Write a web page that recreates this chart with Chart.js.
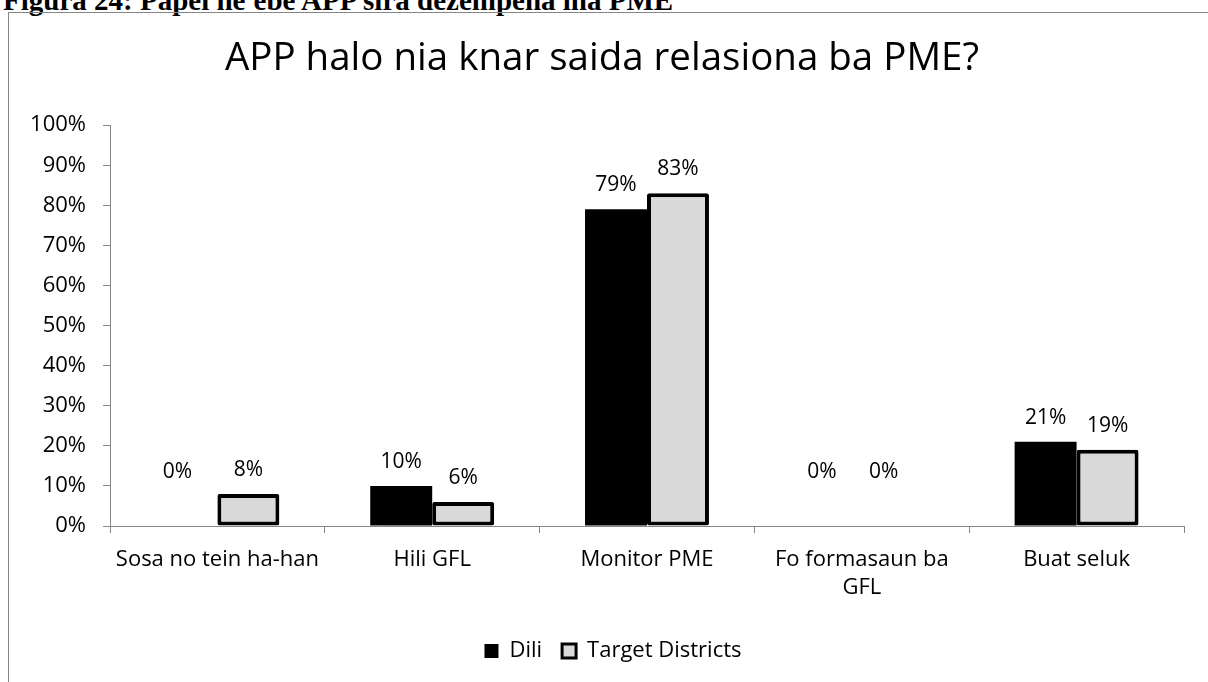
<!DOCTYPE html>
<html>
<head>
<meta charset="utf-8">
<script src="https://cdn.jsdelivr.net/npm/chart.js@4.4.0/dist/chart.umd.min.js"></script>
<style>
  html, body { margin: 0; padding: 0; background: #fff; width: 1208px; height: 682px; overflow: hidden; }
  #caption { position: absolute; left: 3px; top: -14px; line-height: 29px; font-family: "Liberation Serif", "Times New Roman", serif; font-weight: bold; font-size: 29px; color: #000; white-space: nowrap; }
  #frame { position: absolute; left: 8px; top: 12px; width: 1230px; height: 700px; border: 1px solid #868686; box-sizing: border-box; }
  #wrap { position: absolute; left: 0; top: 0; width: 1208px; height: 682px; }
</style>
</head>
<body>
<div id="caption">Figura 24: Papel ne'ebe APP sira dezempena iha PME</div>
<div id="frame"></div>
<div id="wrap"><canvas id="c" width="1208" height="682"></canvas></div>
<script>
const categories = ["Sosa no tein ha-han", "Hili GFL", "Monitor PME", ["Fo formasaun ba", "GFL"], "Buat seluk"];
const diliValues = [0, 10, 79, 0, 21];
const targetValues = [8, 6, 83, 0, 19];
const yTicks = [0, 10, 20, 30, 40, 50, 60, 70, 80, 90, 100];
const seriesNames = ["Dili", "Target Districts"];
const chartTitle = "APP halo nia knar saida relasiona ba PME?";

const FONT = "'Open Sans', sans-serif";

const labelPlugin = {
  id: 'barLabels',
  afterLayout(chart) {
    const lg = chart.legend;
    if (lg) { lg.left += 11; lg.right += 11; }
  },
  afterDatasetsDraw(chart) {
    const ctx = chart.ctx;
    const yScale = chart.scales.y;
    ctx.save();
    ctx.font = "21px " + FONT;
    ctx.fillStyle = "#000";
    ctx.textAlign = "center";
    ctx.textBaseline = "alphabetic";
    chart.data.datasets.forEach((ds, di) => {
      const meta = chart.getDatasetMeta(di);
      meta.data.forEach((bar, i) => {
        const v = ds.data[i];
        if (v === 0) {
          ctx.fillText(v + "%", bar.x - 9, yScale.getPixelForValue(0) - 48);
        } else {
          ctx.fillText(v + "%", bar.x, bar.y - 18);
        }
      });
    });
    ctx.restore();
  }
};

new Chart(document.getElementById('c'), {
  type: 'bar',
  data: {
    labels: categories,
    datasets: [
      { label: seriesNames[0], data: diliValues, backgroundColor: '#000000', borderColor: '#000000', borderWidth: 0,
        categoryPercentage: 0.577, barPercentage: 1.0 },
      { label: seriesNames[1], data: targetValues, backgroundColor: '#d9d9d9', borderColor: '#000000', borderWidth: 4, borderRadius: 2, borderSkipped: false,
        categoryPercentage: 0.577, barPercentage: 1.0 }
    ]
  },
  options: {
    responsive: false,
    animation: false,
    devicePixelRatio: 1,
    layout: { padding: { left: 20, right: 24, top: 0, bottom: 10 } },
    plugins: {
      title: { display: true, text: chartTitle, color: '#000', font: { family: FONT, size: 38.5, weight: 'normal', lineHeight: 1.2 }, padding: { top: 36, bottom: 43 } },
      legend: {
        position: 'bottom',
        labels: {
          color: '#000', font: { family: FONT, size: 22 }, boxWidth: 14, boxHeight: 14, padding: 20,
          generateLabels(chart) {
            return chart.data.datasets.map((ds, i) => ({
              text: ds.label, fillStyle: ds.backgroundColor, strokeStyle: '#000', lineWidth: i === 1 ? 3 : 0,
              fontColor: '#000', datasetIndex: i, hidden: false
            }));
          }
        }
      },
      tooltip: { enabled: false }
    },
    scales: {
      x: {
        grid: { display: true, drawOnChartArea: false, drawTicks: true, tickLength: 7, color: '#868686', offset: true },
        border: { display: true, color: '#868686', width: 1 },
        ticks: { color: '#000', font: { family: FONT, size: 22, lineHeight: 1.27 }, maxRotation: 0, padding: 13 },
        afterFit(scale) { scale.height = 94; }
      },
      y: {
        min: 0, max: 100,
        afterBuildTicks(scale) { scale.ticks = yTicks.map(v => ({ value: v })); },
        grid: { display: true, drawOnChartArea: false, drawTicks: true, tickLength: 7, color: '#868686' },
        border: { display: true, color: '#868686', width: 1 },
        ticks: { color: '#000', font: { family: FONT, size: 22 }, padding: 17, callback: v => v + '%' },
        afterFit(scale) { scale.width = 90; }
      }
    }
  },
  plugins: [labelPlugin]
});
</script>
</body>
</html>
